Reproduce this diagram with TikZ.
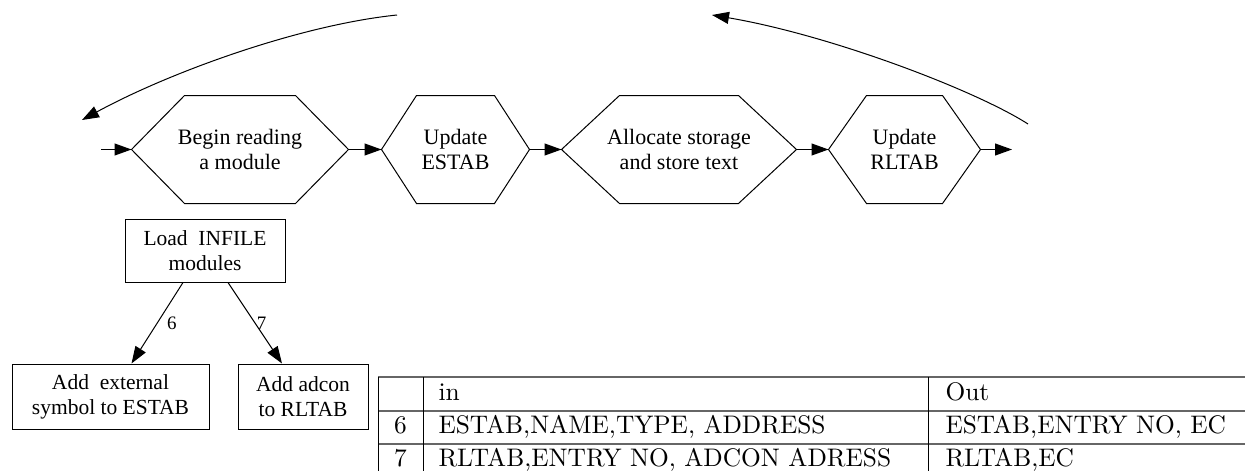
\documentclass[tikz,border=0pt]{standalone}
\usepackage{fontspec}
\newfontfamily\diagfont{Liberation Serif}
\newfontfamily\tabfont{lmroman10-regular}[Extension=.otf]
\usetikzlibrary{arrows.meta}
\tikzset{
  arr/.style={-{Triangle[length=17pt,width=12pt]}},
  hexbox/.style={minimum height=107pt, inner sep=0pt, align=center, font=\diagfont\fontsize{22}{25}\selectfont},
  stepbox/.style={draw, minimum height=65pt, inner sep=0pt, align=center, font=\diagfont\fontsize{21.5}{25}\selectfont},
  rowline/.style={draw=black!60, line width=2.2pt},
  cell/.style={anchor=base west, inner sep=0pt, font=\tabfont\fontsize{25.4}{30}\selectfont},
}
\begin{document}
\begin{tikzpicture}[x=1pt, y=-1pt, line width=1pt]
\useasboundingbox (0,0) rectangle (1245,471);
% main pass through one module
\node[hexbox, minimum width=216pt] (begin) at (240,149.5) {Begin reading\\ a module};
\node[hexbox, minimum width=147pt] (estab) at (455.5,149.5) {Update\\ ESTAB};
\node[hexbox, minimum width=234pt] (alloc) at (679,149.5) {Allocate storage\\ and store text};
\node[hexbox, minimum width=151pt] (rltab) at (904.5,149.5) {Update\\ RLTAB};
\foreach \n/\d in {begin/53, estab/35, alloc/58, rltab/38}
  \draw (\n.west) -- ([xshift=\d]\n.north west) -- ([xshift=-\d]\n.north east) -- (\n.east)
    -- ([xshift=-\d]\n.south east) -- ([xshift=\d]\n.south west) -- cycle;
\coordinate (start) at (101,149.5);
\coordinate (finish) at (1012,149.5);
\draw[arr] (start) -- (begin.west);
\draw[arr] (begin.east) -- (estab.west);
\draw[arr] (estab.east) -- (alloc.west);
\draw[arr] (alloc.east) -- (rltab.west);
\draw[arr] (rltab.east) -- (finish);
% loop back
\coordinate (topl) at (397,15);
\coordinate (loopl) at (82,120);
\draw[arr] (topl) .. controls (300,25) and (170,72) .. (loopl);
\coordinate (loopr) at (1028,124);
\coordinate (topr) at (712,15);
\draw[arr] (loopr) .. controls (975,90) and (830,35) .. (topr);
% load step
\node[stepbox, minimum width=160pt, minimum height=63pt] (load) at (205,250.5) {Load~~INFILE\\ modules};
\node[stepbox, minimum width=197pt] (ext) at (110.5,396.5) {Add~~external\\ symbol to ESTAB};
\node[stepbox, minimum width=130pt] (adcon) at (303,396.5) {Add adcon\\ to RLTAB};
\draw[arr] ([xshift=-22]load.south) -- ([xshift=21]ext.north)
  node[midway, right=6pt, font=\diagfont\fontsize{19}{22}\selectfont] {6};
\draw[arr] ([xshift=23]load.south) -- ([xshift=-21]adcon.north)
  node[midway, right=-2pt, font=\diagfont\fontsize{19}{22}\selectfont] {7};
% table
\draw[rowline] (378,377) -- (1245,377);
\draw[rowline] (378,411) -- (1245,411);
\draw[rowline] (378,444) -- (1245,444);
\draw (378,377) -- (378,471);
\draw (423,377) -- (423,471);
\draw (928,377) -- (928,471);
\node[cell] (hin) at (438,400) {in};
\node[cell] (hout) at (945,400) {Out};
\node[cell, anchor=base] (n6) at (400.5,433) {6};
\node[cell] (in6) at (438,433) {ESTAB,NAME,TYPE, ADDRESS};
\node[cell] (out6) at (945,433) {ESTAB,ENTRY NO, EC};
\node[cell, anchor=base] (n7) at (400.5,466) {7};
\node[cell] (in7) at (438,466) {RLTAB,ENTRY NO, ADCON ADRESS};
\node[cell] (out7) at (945,466) {RLTAB,EC};
\end{tikzpicture}
\end{document}
